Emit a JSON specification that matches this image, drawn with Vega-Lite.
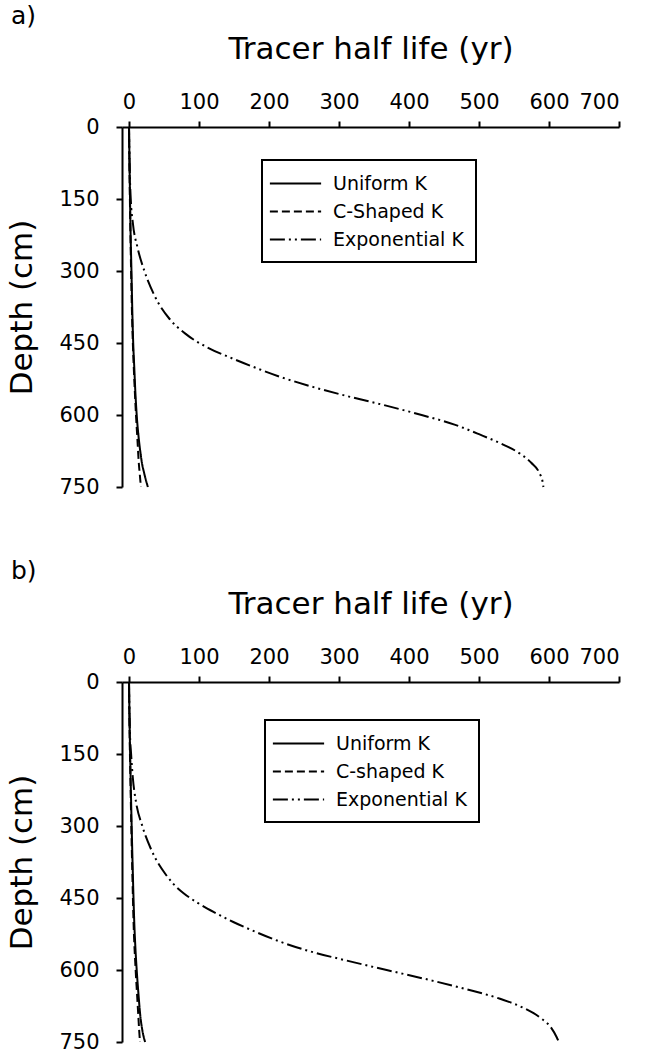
{
  "$schema": "https://vega.github.io/schema/vega-lite/v6.json",
  "background": "white",
  "padding": {"left": 6, "top": 4, "right": 5, "bottom": 3},
  "spacing": 62,
  "config": {
    "font": "DejaVu Sans",
    "view": {"stroke": null},
    "axis": {
      "domainColor": "black", "domainWidth": 2, "tickColor": "black", "tickWidth": 2, "tickSize": 6,
      "labelColor": "black", "labelFont": "DejaVu Sans", "labelFontSize": 21,
      "titleColor": "black", "titleFont": "DejaVu Sans", "titleFontSize": 31, "titleFontWeight": "normal",
      "grid": false
    },
    "legend": {
      "orient": "none", "strokeColor": "black", "strokeWidth": 2, "fillColor": "white",
      "padding": 12, "labelFont": "DejaVu Sans", "labelFontSize": 19, "labelColor": "black",
      "symbolType": "M-2.5,0H2.5", "symbolSize": 420, "symbolStrokeWidth": 2, "symbolStrokeColor": "black",
      "symbolOffset": 10, "labelOffset": 26, "rowPadding": 6
    },
    "title": {"font": "DejaVu Sans", "fontSize": 25, "fontWeight": "normal", "color": "black", "anchor": "start", "frame": "group"}
  },
  "data": {"values": [
    {"panel":"a","series":"Uniform K","depth":0,"life":0},
    {"panel":"a","series":"Uniform K","depth":100,"life":1},
    {"panel":"a","series":"Uniform K","depth":200,"life":2},
    {"panel":"a","series":"Uniform K","depth":300,"life":3.5},
    {"panel":"a","series":"Uniform K","depth":400,"life":5},
    {"panel":"a","series":"Uniform K","depth":450,"life":6},
    {"panel":"a","series":"Uniform K","depth":500,"life":7.5},
    {"panel":"a","series":"Uniform K","depth":550,"life":9},
    {"panel":"a","series":"Uniform K","depth":600,"life":11},
    {"panel":"a","series":"Uniform K","depth":650,"life":14},
    {"panel":"a","series":"Uniform K","depth":680,"life":16.5},
    {"panel":"a","series":"Uniform K","depth":700,"life":18.5},
    {"panel":"a","series":"Uniform K","depth":720,"life":21.5},
    {"panel":"a","series":"Uniform K","depth":740,"life":25},
    {"panel":"a","series":"Uniform K","depth":750,"life":27},
    {"panel":"a","series":"C-Shaped K","depth":0,"life":0},
    {"panel":"a","series":"C-Shaped K","depth":100,"life":0.8},
    {"panel":"a","series":"C-Shaped K","depth":200,"life":1.8},
    {"panel":"a","series":"C-Shaped K","depth":300,"life":3},
    {"panel":"a","series":"C-Shaped K","depth":400,"life":4.5},
    {"panel":"a","series":"C-Shaped K","depth":450,"life":5.5},
    {"panel":"a","series":"C-Shaped K","depth":500,"life":6.8},
    {"panel":"a","series":"C-Shaped K","depth":550,"life":8.3},
    {"panel":"a","series":"C-Shaped K","depth":600,"life":10},
    {"panel":"a","series":"C-Shaped K","depth":650,"life":12},
    {"panel":"a","series":"C-Shaped K","depth":700,"life":14},
    {"panel":"a","series":"C-Shaped K","depth":725,"life":15.5},
    {"panel":"a","series":"C-Shaped K","depth":750,"life":17},
    {"panel":"a","series":"Exponential K","depth":0,"life":0},
    {"panel":"a","series":"Exponential K","depth":50,"life":0.5},
    {"panel":"a","series":"Exponential K","depth":100,"life":1.2},
    {"panel":"a","series":"Exponential K","depth":150,"life":2.5},
    {"panel":"a","series":"Exponential K","depth":200,"life":5.5},
    {"panel":"a","series":"Exponential K","depth":250,"life":12},
    {"panel":"a","series":"Exponential K","depth":300,"life":22},
    {"panel":"a","series":"Exponential K","depth":350,"life":36},
    {"panel":"a","series":"Exponential K","depth":400,"life":58},
    {"panel":"a","series":"Exponential K","depth":430,"life":80},
    {"panel":"a","series":"Exponential K","depth":460,"life":113},
    {"panel":"a","series":"Exponential K","depth":480,"life":144},
    {"panel":"a","series":"Exponential K","depth":500,"life":178},
    {"panel":"a","series":"Exponential K","depth":520,"life":215},
    {"panel":"a","series":"Exponential K","depth":540,"life":259},
    {"panel":"a","series":"Exponential K","depth":560,"life":310},
    {"panel":"a","series":"Exponential K","depth":580,"life":366},
    {"panel":"a","series":"Exponential K","depth":600,"life":418},
    {"panel":"a","series":"Exponential K","depth":620,"life":465},
    {"panel":"a","series":"Exponential K","depth":640,"life":500},
    {"panel":"a","series":"Exponential K","depth":660,"life":532},
    {"panel":"a","series":"Exponential K","depth":680,"life":558},
    {"panel":"a","series":"Exponential K","depth":700,"life":575},
    {"panel":"a","series":"Exponential K","depth":720,"life":586},
    {"panel":"a","series":"Exponential K","depth":740,"life":591},
    {"panel":"a","series":"Exponential K","depth":750,"life":592},
    {"panel":"b","series":"Uniform K","depth":0,"life":0},
    {"panel":"b","series":"Uniform K","depth":100,"life":1},
    {"panel":"b","series":"Uniform K","depth":200,"life":2.3},
    {"panel":"b","series":"Uniform K","depth":300,"life":3.8},
    {"panel":"b","series":"Uniform K","depth":400,"life":5.5},
    {"panel":"b","series":"Uniform K","depth":500,"life":7.5},
    {"panel":"b","series":"Uniform K","depth":550,"life":9},
    {"panel":"b","series":"Uniform K","depth":600,"life":11},
    {"panel":"b","series":"Uniform K","depth":650,"life":13.5},
    {"panel":"b","series":"Uniform K","depth":700,"life":16.5},
    {"panel":"b","series":"Uniform K","depth":725,"life":19},
    {"panel":"b","series":"Uniform K","depth":750,"life":23},
    {"panel":"b","series":"C-shaped K","depth":0,"life":0},
    {"panel":"b","series":"C-shaped K","depth":100,"life":0.8},
    {"panel":"b","series":"C-shaped K","depth":200,"life":2},
    {"panel":"b","series":"C-shaped K","depth":300,"life":3.3},
    {"panel":"b","series":"C-shaped K","depth":400,"life":4.8},
    {"panel":"b","series":"C-shaped K","depth":500,"life":6.5},
    {"panel":"b","series":"C-shaped K","depth":600,"life":9.5},
    {"panel":"b","series":"C-shaped K","depth":650,"life":11.5},
    {"panel":"b","series":"C-shaped K","depth":700,"life":13.5},
    {"panel":"b","series":"C-shaped K","depth":725,"life":14.5},
    {"panel":"b","series":"C-shaped K","depth":750,"life":15.7},
    {"panel":"b","series":"Exponential K","depth":0,"life":0},
    {"panel":"b","series":"Exponential K","depth":50,"life":0.5},
    {"panel":"b","series":"Exponential K","depth":100,"life":1.2},
    {"panel":"b","series":"Exponential K","depth":150,"life":3},
    {"panel":"b","series":"Exponential K","depth":200,"life":5.5},
    {"panel":"b","series":"Exponential K","depth":250,"life":10},
    {"panel":"b","series":"Exponential K","depth":300,"life":19},
    {"panel":"b","series":"Exponential K","depth":350,"life":32},
    {"panel":"b","series":"Exponential K","depth":400,"life":52},
    {"panel":"b","series":"Exponential K","depth":420,"life":63},
    {"panel":"b","series":"Exponential K","depth":440,"life":78},
    {"panel":"b","series":"Exponential K","depth":460,"life":98},
    {"panel":"b","series":"Exponential K","depth":480,"life":122},
    {"panel":"b","series":"Exponential K","depth":500,"life":149},
    {"panel":"b","series":"Exponential K","depth":520,"life":180},
    {"panel":"b","series":"Exponential K","depth":540,"life":214},
    {"panel":"b","series":"Exponential K","depth":560,"life":256},
    {"panel":"b","series":"Exponential K","depth":580,"life":310},
    {"panel":"b","series":"Exponential K","depth":600,"life":368},
    {"panel":"b","series":"Exponential K","depth":620,"life":427},
    {"panel":"b","series":"Exponential K","depth":640,"life":482},
    {"panel":"b","series":"Exponential K","depth":660,"life":530},
    {"panel":"b","series":"Exponential K","depth":680,"life":565},
    {"panel":"b","series":"Exponential K","depth":700,"life":588},
    {"panel":"b","series":"Exponential K","depth":720,"life":603},
    {"panel":"b","series":"Exponential K","depth":740,"life":611},
    {"panel":"b","series":"Exponential K","depth":750,"life":614}
  ]},
  "resolve": {"scale": {"x": "independent", "y": "independent", "strokeDash": "independent"}, "legend": {"strokeDash": "independent"}},
  "vconcat": [
    {
      "title": {"text": "a)", "dx": -111, "offset": 4},
      "width": 497, "height": 360,
      "transform": [{"filter": "datum.panel == 'a'"}],
      "mark": {"type": "line", "color": "black", "strokeWidth": 2, "interpolate": "monotone"},
      "encoding": {
        "x": {"field": "life", "type": "quantitative", "scale": {"domain": [-10, 700], "nice": false, "zero": false},
              "axis": {"orient": "top", "values": [0,100,200,300,400,500,600,700], "title": "Tracer half life (yr)", "labelPadding": 9, "titlePadding": 26}},
        "y": {"field": "depth", "type": "quantitative", "scale": {"domain": [0, 750], "reverse": true, "nice": false},
              "axis": {"values": [0,150,300,450,600,750], "title": "Depth (cm)", "labelPadding": 17, "titlePadding": 20}},
        "strokeDash": {"field": "series", "type": "nominal",
              "scale": {"domain": ["Uniform K", "C-Shaped K", "Exponential K"], "range": [[1,0],[8,4],[15,4,2,4,2,4]]},
              "legend": {"title": null, "legendX": 140, "legendY": 33}},
        "order": {"field": "depth", "type": "quantitative"}
      }
    },
    {
      "title": {"text": "b)", "dx": -111, "offset": 4},
      "width": 497, "height": 360,
      "transform": [{"filter": "datum.panel == 'b'"}],
      "mark": {"type": "line", "color": "black", "strokeWidth": 2, "interpolate": "monotone"},
      "encoding": {
        "x": {"field": "life", "type": "quantitative", "scale": {"domain": [-10, 700], "nice": false, "zero": false},
              "axis": {"orient": "top", "values": [0,100,200,300,400,500,600,700], "title": "Tracer half life (yr)", "labelPadding": 9, "titlePadding": 26}},
        "y": {"field": "depth", "type": "quantitative", "scale": {"domain": [0, 750], "reverse": true, "nice": false},
              "axis": {"values": [0,150,300,450,600,750], "title": "Depth (cm)", "labelPadding": 17, "titlePadding": 20}},
        "strokeDash": {"field": "series", "type": "nominal",
              "scale": {"domain": ["Uniform K", "C-shaped K", "Exponential K"], "range": [[1,0],[8,4],[15,4,2,4,2,4]]},
              "legend": {"title": null, "legendX": 143, "legendY": 38}},
        "order": {"field": "depth", "type": "quantitative"}
      }
    }
  ]
}
